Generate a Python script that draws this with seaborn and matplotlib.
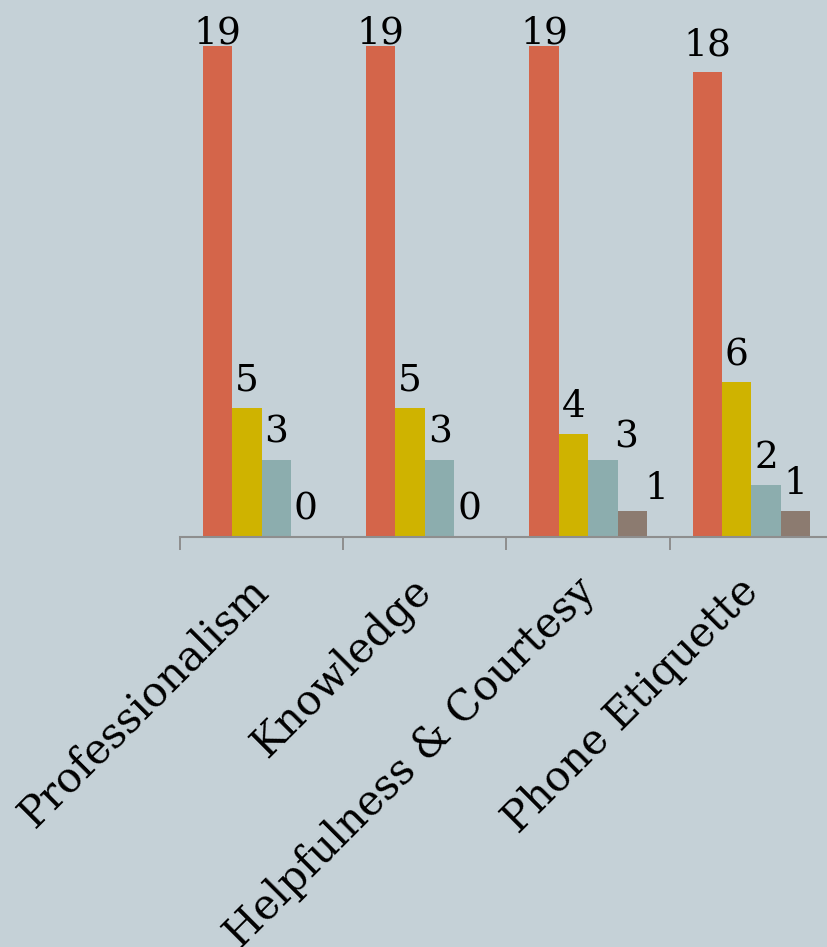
import numpy as np
import pandas as pd
import matplotlib
matplotlib.use("Agg")
import matplotlib.pyplot as plt
import seaborn as sns

# Survey scores per service area
categories = ["Professionalism", "Knowledge", "Helpfulness & Courtesy", "Phone Etiquette"]
ratings = ["Excellent", "Good", "Fair", "Poor"]
excellent = [19, 19, 19, 18]
good = [5, 5, 4, 6]
fair = [3, 3, 3, 2]
poor = [0, 0, 1, 1]

series_values = [excellent, good, fair, poor]
palette = ["#D4654A", "#CFB300", "#8CADAE", "#8C7B70"]
bg = "#C5D1D7"
axis_grey = "#8E8E8E"

rows = []
for rating, vals in zip(ratings, series_values):
    for cat, v in zip(categories, vals):
        rows.append({"category": cat, "rating": rating, "count": v})
df = pd.DataFrame(rows)

sns.set_style("white")
plt.rcParams["font.family"] = ["DejaVu Serif"]

W, H = 828, 947
fig = plt.figure(figsize=(W / 100, H / 100), dpi=100, facecolor=bg)
ax = fig.add_axes([180 / W, (H - 537) / H, 653 / W, 537 / H])
ax.set_facecolor(bg)

sns.barplot(data=df, x="category", y="count", hue="rating",
            order=categories, hue_order=ratings, palette=palette,
            width=0.72, saturation=1, errorbar=None, legend=False,
            linewidth=0, ax=ax)

ax.set_xlim(-0.5, 3.5)
ax.set_ylim(0, 20.8)
ax.set_xlabel("")
ax.set_ylabel("")
ax.set_yticks([])
for side in ["left", "top", "right"]:
    ax.spines[side].set_visible(False)
ax.spines["bottom"].set_color(axis_grey)
ax.spines["bottom"].set_linewidth(1.5)

# category boundary ticks below the axis
ax.set_xticks(np.arange(-0.5, 4, 1), minor=True)
ax.tick_params(axis="x", which="both", bottom=True)
ax.tick_params(axis="x", which="minor", length=9.5, width=1.4, color=axis_grey)
ax.tick_params(axis="x", which="major", length=0, pad=34)
ax.set_xticks(range(len(categories)))
ax.set_xticklabels(categories, fontsize=30, color="black")
for lbl in ax.get_xticklabels():
    lbl.set_rotation(45)
    lbl.set_ha("right")
    lbl.set_va("center")
    lbl.set_rotation_mode("anchor")

# value labels above each bar, kept inside the figure at the top
nudges = {(2, 2): (23, -5), (2, 3): (24, -5)}
for i, cont in enumerate(ax.containers):
    for j, bar in enumerate(cont):
        value = series_values[i][j]
        x = bar.get_x() + bar.get_width() / 2
        top = bar.get_height()
        disp = ax.transData.transform((x, top))
        dx_px, dy_extra = nudges.get((j, i), (0, 0))
        dy_px = 17 + dy_extra
        dy_px = min(dy_px, (H - 43) - disp[1])
        ax.annotate(f"{value}", xy=(x, top), xytext=(dx_px * 0.72, dy_px * 0.72),
                    textcoords="offset points", ha="center", va="baseline",
                    fontsize=27, color="black", annotation_clip=False)

fig.savefig("out.png", dpi=100, facecolor=bg)
